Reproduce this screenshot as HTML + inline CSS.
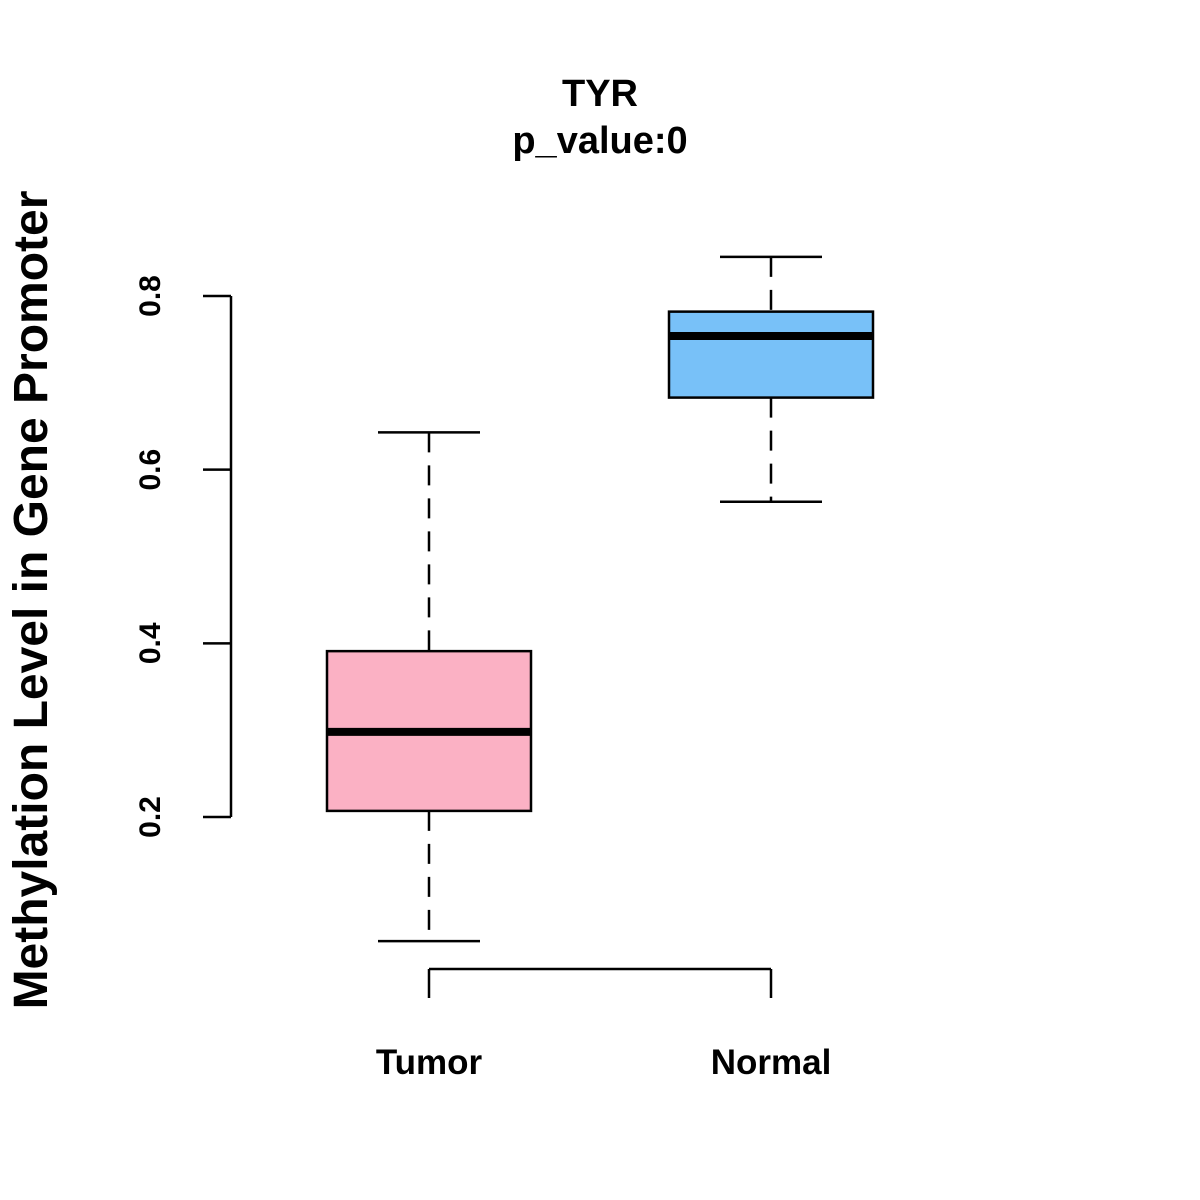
<!DOCTYPE html>
<html><head><meta charset="utf-8"><style>
html,body{margin:0;padding:0;background:#fff}
svg{display:block}
text{font-family:"Liberation Sans",Arial,sans-serif;font-weight:bold;fill:#000}
</style></head><body>
<svg id="chart" width="1200" height="1200" viewBox="0 0 1200 1200">
<text x="600" y="106" font-size="38" text-anchor="middle">TYR</text>
<text x="600" y="153" font-size="38" text-anchor="middle">p_value:0</text>
<text transform="translate(47,600) rotate(-90)" font-size="48" text-anchor="middle">Methylation Level in Gene Promoter</text>
<g id="plot"></g>
</svg>
<script>
const categories = ["Tumor","Normal"];
const whiskerLow = [0.057, 0.563];
const q1 = [0.207, 0.683];
const medians = [0.298, 0.754];
const q3 = [0.391, 0.782];
const whiskerHigh = [0.643, 0.845];
const yTicks = [0.2, 0.4, 0.6, 0.8];
const tickLabels = ["0.2","0.4","0.6","0.8"];
const colors = ["#FBB1C4","#78C1F8"];

const NS = "http://www.w3.org/2000/svg";
const g = document.getElementById("plot");
function y(v){ return 296 + (0.8 - v) * 868.3; }
function x(i){ return 429 + i * 342; }
function el(tag, attrs){
  const e = document.createElementNS(NS, tag);
  for (const k in attrs) e.setAttribute(k, attrs[k]);
  g.appendChild(e); return e;
}
let a = el("line",{x1:231,x2:231,y1:y(yTicks[yTicks.length-1]),y2:y(yTicks[0]),stroke:"#000","stroke-width":2.5});


yTicks.forEach((t,i)=>{
  const l = el("line",{x1:203,x2:231,y1:y(t),y2:y(t),stroke:"#000","stroke-width":2.5});
  
  
  const tx = el("text",{transform:`translate(160,${y(t)}) rotate(-90)`,"font-size":30,"text-anchor":"middle"});
  tx.textContent = tickLabels[i];
  
  
});
a = el("line",{x1:x(0),x2:x(categories.length-1),y1:969,y2:969,stroke:"#000","stroke-width":2.5});


categories.forEach((c,i)=>{
  const cx = x(i);
  const t = el("line",{x1:cx,x2:cx,y1:969,y2:998,stroke:"#000","stroke-width":2.5});
  
  
  const lb = el("text",{x:cx,y:1074,"font-size":35,"text-anchor":"middle"});
  lb.textContent = c;
  
  
  const w1 = el("line",{x1:cx,x2:cx,y1:y(whiskerHigh[i]),y2:y(q3[i]),stroke:"#000","stroke-width":2.5,"stroke-dasharray":"20,13"});
  
  
  const w2 = el("line",{x1:cx,x2:cx,y1:y(q1[i]),y2:y(whiskerLow[i]),stroke:"#000","stroke-width":2.5,"stroke-dasharray":"20,13"});
  
  
  const c1 = el("line",{x1:cx-51,x2:cx+51,y1:y(whiskerHigh[i]),y2:y(whiskerHigh[i]),stroke:"#000","stroke-width":2.5});
  
  
  const c2 = el("line",{x1:cx-51,x2:cx+51,y1:y(whiskerLow[i]),y2:y(whiskerLow[i]),stroke:"#000","stroke-width":2.5});
  
  
  const b = el("rect",{x:cx-102,y:y(q3[i]),width:204,height:y(q1[i])-y(q3[i]),fill:colors[i],stroke:"#000","stroke-width":2.5});
  
  
  const m = el("line",{x1:cx-101,x2:cx+101,y1:y(medians[i]),y2:y(medians[i]),stroke:"#000","stroke-width":8});
  
  
});
</script>
</body></html>
